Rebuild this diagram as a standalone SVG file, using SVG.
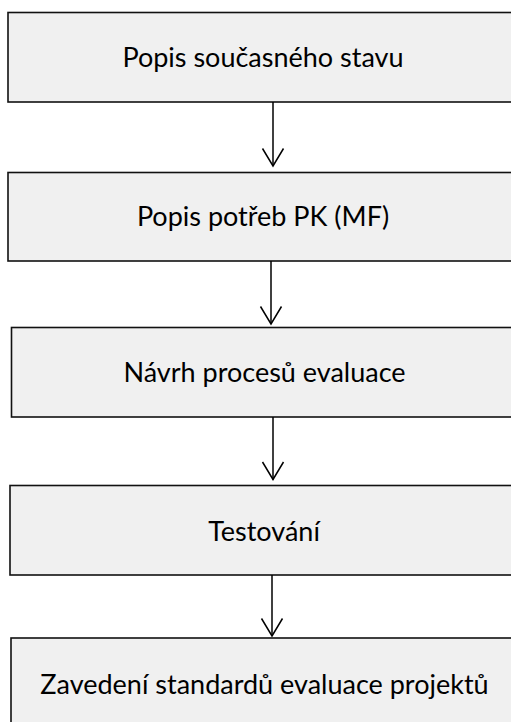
<svg xmlns="http://www.w3.org/2000/svg" width="511" height="722" viewBox="0 0 511 722">
  <defs>
    <marker id="arrow" markerUnits="userSpaceOnUse" viewBox="-1 -12 20 24" refX="17.5" refY="0" markerWidth="20" markerHeight="24" orient="auto" overflow="visible">
      <path d="M0,-10.5 L17.5,0 L0,10.5" fill="none" stroke="#000" stroke-width="1.5"/>
    </marker>
  </defs>
  <style>
    .box { fill: #f0f0f0; stroke: #111; stroke-width: 1.6; }
    .label { font-family: Lato, "Open Sans", "DejaVu Sans", sans-serif; font-size: 27px; fill: #000; text-anchor: middle; }
    .conn { stroke: #000; stroke-width: 1.5; fill: none; marker-end: url(#arrow); }
  </style>
  <rect width="511" height="722" fill="#ffffff"/>
  <g id="node1">
    <rect class="box" x="8" y="12.5" width="520" height="89.5"/>
    <text class="label" x="263" y="66.5">Popis současného stavu</text>
  </g>
  <g id="node2">
    <rect class="box" x="8" y="172.5" width="520" height="88.5"/>
    <text class="label" x="263" y="225.5">Popis potřeb PK (MF)</text>
  </g>
  <g id="node3">
    <rect class="box" x="11.5" y="327.5" width="520" height="89.5"/>
    <text class="label" x="264.5" y="382">Návrh procesů evaluace</text>
  </g>
  <g id="node4">
    <rect class="box" x="10" y="485.5" width="520" height="89.5"/>
    <text class="label" x="264" y="540.5">Testování</text>
  </g>
  <g id="node5">
    <rect class="box" x="11" y="638" width="520" height="100"/>
    <text class="label" x="264.5" y="693.5">Zavedení standardů evaluace projektů</text>
  </g>
  <g id="connectors">
    <line class="conn" x1="273" y1="102" x2="273" y2="166"/>
    <line class="conn" x1="271" y1="261" x2="271" y2="324"/>
    <line class="conn" x1="273" y1="417" x2="273" y2="479.5"/>
    <line class="conn" x1="272" y1="575" x2="272" y2="636"/>
  </g>
</svg>
